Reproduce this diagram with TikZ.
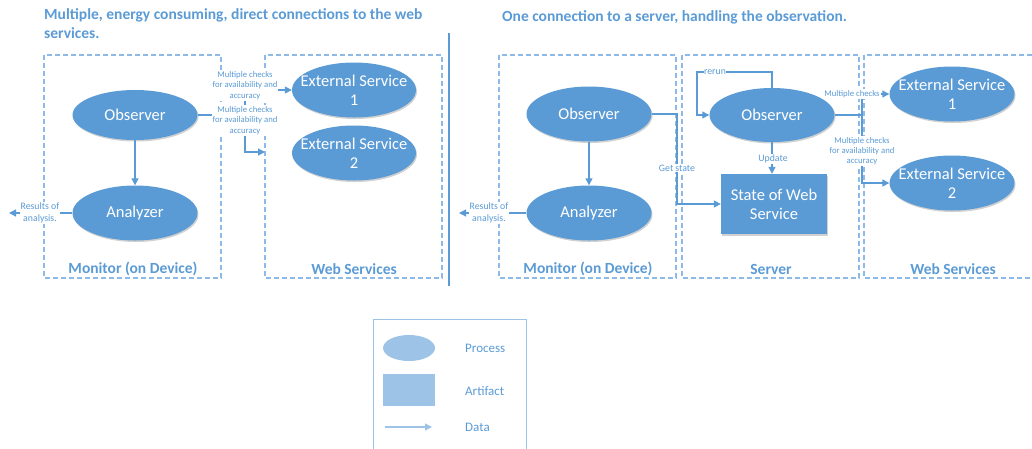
\documentclass[tikz,border=0pt]{standalone}
\usepackage{fontspec}
\setmainfont{Carlito}
\usetikzlibrary{shapes.geometric,arrows.meta,shadows}
\definecolor{mblue}{HTML}{5B9BD5}
\definecolor{lblue}{HTML}{8DBAE6}
\definecolor{legfill}{HTML}{9DC3E6}
\tikzset{
  proc/.style={ellipse, fill=mblue, text=white, minimum width=125pt, minimum height=55pt, inner sep=0pt, align=center,
    font=\fontsize{16.5}{19}\selectfont, drop shadow={shadow xshift=1pt, shadow yshift=-1.5pt, fill=black, opacity=0.18}},
  ptext/.style={text=white, align=center, inner sep=0pt, font=\fontsize{16.5}{19}\selectfont},
  art/.style={rectangle, fill=mblue, text=white, minimum width=106pt, minimum height=60pt, inner sep=0pt, align=center,
    font=\fontsize{16.5}{19}\selectfont, drop shadow={shadow xshift=1pt, shadow yshift=-1.5pt, fill=black, opacity=0.18}},
  flow/.style={draw=mblue, line width=1.2pt, -{Triangle[length=7pt,width=7pt]}},
  small/.style={font=\fontsize{8.7}{10.3}\selectfont, text=mblue, align=center, fill=white, inner sep=1pt},
  lab/.style={font=\fontsize{9.8}{12}\selectfont, text=mblue, align=center, fill=white, inner sep=1pt},
  region/.style={draw=lblue, line width=1.3pt, dash pattern=on 5pt off 3pt},
  regionlabel/.style={font=\bfseries\fontsize{15.5}{18}\selectfont, text=mblue, inner sep=0pt},
  title/.style={font=\bfseries\fontsize{15.5}{19}\selectfont, text=mblue, align=left, inner sep=0pt},
  legtext/.style={font=\fontsize{13}{15}\selectfont, text=mblue, anchor=west, inner sep=0pt}
}
\begin{document}
\begin{tikzpicture}[x=1pt,y=-1pt]
\useasboundingbox (0,0) rectangle (1032,448);
\clip (0,0) rectangle (1032,448);
% titles
\node[title, anchor=north west] (t1) at (44,8.5) {Multiple, energy consuming, direct connections to the web\\services.};
\node[title, anchor=west] (t2) at (502,17.5) {One connection to a server, handling the observation.};
% separator
\coordinate (s1) at (449,33);
\coordinate (s2) at (449,286);
\draw[mblue, line width=2pt] (s1) -- (s2);

% ===== left panel =====
\draw[region] (44,55) rectangle (221,278);
\draw[region] (265,55) rectangle (442,278);
\node[regionlabel] (rl1) at (133,269) {Monitor (on Device)};
\node[regionlabel] (rl2) at (354,269) {Web Services};

\node[proc, minimum height=50pt] (obs1) at (135,115) {Observer};
\node[proc] (ana1) at (135,213) {Analyzer};
\node[proc, minimum width=124pt, label={[ptext]center:{External Service\\1}}] (es1a) at (354,90) {};
\node[proc, minimum width=124pt, label={[ptext]center:{External Service\\2}}] (es2a) at (354,153) {};

\coordinate (j1) at (245,0);
\coordinate (wsA) at (265,152);
\coordinate (res1) at (9,213);
\draw[flow] (obs1) -- (ana1);
\draw[flow] (obs1.east) -- (obs1.east -| j1) |- (es1a.west);
\draw[flow] (obs1.east) -- (obs1.east -| j1) |- (wsA);
\draw[flow] (ana1.west) -- (res1);
\node[small] (m1) at (245,85.5) {Multiple checks\\for availability and\\accuracy};
\node[small] (m2) at (245,120.5) {Multiple checks\\for availability and\\accuracy};
\node[lab] (r1) at (40,213) {Results of\\analysis.};

% ===== right panel =====
\draw[region] (499,55) rectangle (676,278);
\draw[region] (682,55) rectangle (859,278);
\draw[region] (864,55) rectangle (1045,278);
\node[regionlabel] (rl3) at (588,269) {Monitor (on Device)};
\node[regionlabel] (rl4) at (771,269) {Server};
\node[regionlabel] (rl5) at (953,269) {Web Services};

\node[proc] (obs2) at (589,114) {Observer};
\node[proc] (ana2) at (589,213) {Analyzer};
\node[proc, minimum height=54pt] (obs3) at (772,115) {Observer};
\node[art] (state) at (774,204) {State of Web\\Service};
\node[proc, label={[ptext]center:{External Service\\1}}] (es1b) at (952,94) {};
\node[proc, label={[ptext]center:{External Service\\2}}] (es2b) at (952,183) {};

\coordinate (res2) at (459,213);
\coordinate (gs) at (677,0);
\coordinate (rr) at (697,72);
\coordinate (mc) at (862,0);
\draw[flow] (obs2) -- (ana2);
\draw[flow] (ana2.west) -- (res2);
\draw[flow] (obs2.east) -- (obs2.east -| gs) |- (state.west);
\draw[flow] (obs3.south) -- (obs3.south |- state.north);
\draw[flow] (obs3.north) |- (rr) |- (obs3.west);
\draw[flow] (obs3.east) -- (obs3.east -| mc) |- (es1b.west);
\draw[flow] (obs3.east) -- (obs3.east -| mc) |- (es2b.west);
\node[lab] (r2) at (489,213) {Results of\\analysis.};
\node[lab] (gsl) at (677,168) {Get state};
\node[lab] (upl) at (773,159) {Update};
\node[lab, inner sep=0.5pt] (rrl) at (715,72) {rerun};
\node[small] (m3) at (852,94) {Multiple checks};
\node[small] (m4) at (862,151) {Multiple checks\\for availability and\\accuracy};

% ===== legend =====
\draw[legfill, line width=1pt] (373,319) rectangle (526,470);
\node[ellipse, fill=legfill, minimum width=52pt, minimum height=26pt, inner sep=0pt] (lp) at (409,348) {};
\node[rectangle, fill=legfill, minimum width=52pt, minimum height=32pt, inner sep=0pt] (la) at (409,390) {};
\coordinate (ld1) at (385,427);
\coordinate (ld2) at (432,427);
\draw[legfill, line width=1.2pt, -{Triangle[length=7pt,width=7pt]}] (ld1) -- (ld2);
\node[legtext] (lpt) at (465,348) {Process};
\node[legtext] (lat) at (465,391) {Artifact};
\node[legtext] (ldt) at (465,427) {Data};
\end{tikzpicture}
\end{document}
